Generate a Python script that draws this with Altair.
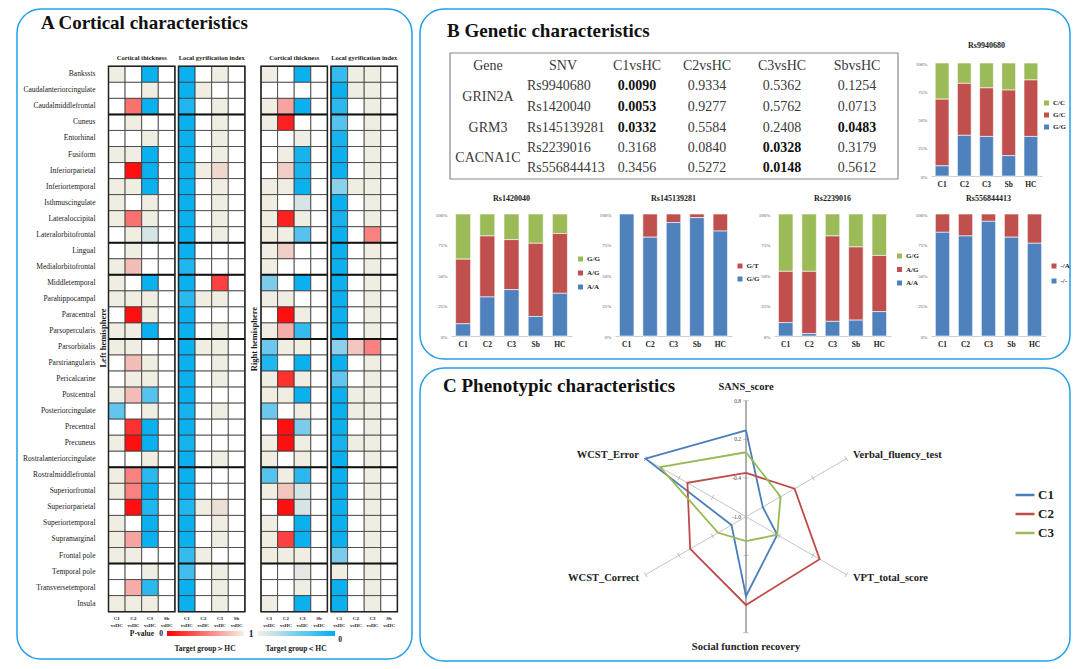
import math
import altair as alt
import pandas as pd

SERIF = "Liberation Serif"
FRAME = "#22a0e6"

# ------------------------------------------------------------------ data
regions = ["Bankssts", "Caudalanteriorcingulate", "Caudalmiddlefrontal", "Cuneus", "Entorhinal",
           "Fusiform", "Inferiorparietal", "Inferiortemporal", "Isthmuscingulate", "Lateraloccipital",
           "Lateralorbitofrontal", "Lingual", "Medialorbitofrontal", "Middletemporal", "Parahippocampal",
           "Paracentral", "Parsopercularis", "Parsorbitalis", "Parstriangularis", "Pericalcarine",
           "Postcentral", "Posteriorcingulate", "Precentral", "Precuneus", "Rostralanteriorcingulate",
           "Rostralmiddlefrontal", "Superiorfrontal", "Superiorparietal", "Superiortemporal",
           "Supramarginal", "Frontal pole", "Temporal pole", "Transversetemporal", "Insula"]
group_breaks = [3, 11, 13, 17, 25, 31]
col_labels = ["C1\nvsHC", "C2\nvsHC", "C3\nvsHC", "Sb\nvsHC"]
block_titles = ["Cortical thickness", "Local gyrification index", "Cortical thickness", "Local gyrification index"]

# signed strength: + red (target > HC), - blue (target < HC); 0 white (p=1), 0.08 beige
lt_c1 = [0.08, 0, 0, 0, 0, 0.08, 0, 0.08, 0.08, 0.08, 0, 0, 0.08, 0.08, 0.08, 0, 0.08, 0.08, 0, 0,
         0.08, -0.55, 0, 0.08, 0, 0.08, 0.08, 0, 0.08, 0.08, 0.08, 0, 0, 0.08]
lt_c2 = [0, 0, 0.65, 0.08, 0, 0.08, 0.95, 0.08, 0, 0.65, 0.08, 0.08, 0.35, 0, 0.08, 0.95, 0.08, 0.08,
         0.35, 0.08, 0.35, 0, 0.85, 0.95, 0, 0.6, 0.6, 0.95, 0, 0.5, 0.08, 0, 0.45, 0.08]
lt_c3 = [-0.95, 0.08, -0.95, 0, 0.08, -0.95, -0.95, -0.95, 0.08, 0.08, -0.15, 0, 0, -0.95, 0.08, 0.08,
         -0.95, 0, 0.08, 0.08, -0.6, 0.08, -0.95, -0.95, 0.08, -0.8, -0.95, -0.85, -0.95, -0.95, 0,
         0.08, -0.8, 0.08]
lt_sb = [0, 0, 0, 0, 0, 0, 0, 0, 0, 0, 0, 0, 0, 0, 0, 0, 0, 0, 0, 0, 0, 0, 0, 0, 0, 0, 0, 0, 0, 0,
         0, 0, 0, 0]
ll_c1 = [-0.95, -0.95, -0.85, -0.95, -0.95, -0.95, -0.95, -0.95, -0.95, -0.95, -0.95, -0.95, -0.85,
         -0.95, -0.8, -0.95, -0.95, -0.95, -0.95, -0.95, -0.95, -0.9, -0.95, -0.9, -0.95, -0.95,
         -0.95, -0.85, -0.95, -0.95, -0.75, -0.7, -0.95, -0.95]
ll_c2 = [0, 0.08, 0, 0, 0, 0, 0.08, 0, 0, 0, 0, 0, 0, 0, 0.08, 0, 0, 0.08, 0, 0, 0, 0, 0, 0, 0, 0,
         0, 0.08, 0, 0, 0.08, 0, 0, 0]
ll_c3 = [0.08, 0, 0.08, 0.08, 0.08, 0.08, 0.2, 0.08, 0.08, 0.08, 0.08, 0, 0, 0.8, 0.08, 0, 0.08,
         0.08, 0.08, 0.08, 0, 0.08, 0, 0, 0.08, 0, 0, 0.15, 0.08, 0.08, 0, 0.08, 0.08, 0.08]
ll_sb = [0, 0, 0, 0, 0, 0, 0, 0, 0, 0, 0, 0, 0, 0, 0, 0, 0, 0, 0, 0, 0, 0, 0, 0, 0, 0, 0, 0, 0, 0,
         0, 0, 0, 0]
rt_c1 = [0.08, 0, 0.08, 0.08, 0, 0, 0, 0.08, 0.08, 0.08, 0.08, 0.08, 0.08, -0.45, 0.08, 0, 0.08,
         -0.5, -0.85, 0.08, 0.08, -0.5, 0, 0.08, 0.08, -0.6, 0.08, 0, 0.08, 0.08, 0.08, 0, 0, 0.08]
rt_c2 = [0, 0, 0.5, 0.9, 0, 0.08, 0.25, 0.08, 0, 0.9, 0.08, 0.25, 0, 0, 0.08, 0.95, 0.45, 0.08, 0,
         0.85, 0.08, 0, 0.95, 0.95, 0, 0.08, 0.3, 0.95, 0, 0.8, 0.08, 0, 0, 0]
rt_c3 = [-0.95, 0, -0.95, 0, 0.08, -0.9, -0.9, -0.95, -0.15, 0.08, -0.6, 0, 0, -0.95, 0, 0.08, -0.75,
         0.08, -0.95, 0.08, -0.95, 0.08, -0.45, 0.08, 0.08, -0.8, -0.15, -0.15, -0.95, -0.95, 0.08,
         -0.1, 0.08, -0.95]
rt_sb = [0, 0, 0, 0, 0, 0, 0, 0, 0, 0, 0, 0, 0, 0, 0, 0, 0, 0, 0, 0, 0, 0, 0, 0, 0, 0, 0, 0, 0, 0,
         0, 0, 0, 0]
rl_c1 = [-0.75, -0.95, -0.8, -0.6, -0.9, -0.95, -0.95, -0.4, -0.95, -0.9, -0.95, -0.95, -0.95, -0.95,
         -0.95, -0.95, -0.95, -0.4, -0.95, -0.55, -0.95, -0.95, -0.95, -0.9, -0.95, -0.95, -0.95,
         -0.95, -0.95, -0.95, -0.45, 0.08, -0.95, -0.95]
rl_c2 = [0.08, 0.08, 0, 0, 0, 0, 0, 0.08, 0, 0, 0, 0, 0, 0, 0, 0, 0, 0.3, 0, 0, 0.08, 0.08, 0, 0.08,
         0, 0, 0, 0, 0, 0, 0, 0, 0, 0]
rl_c3 = [0.08, 0.08, 0.08, 0.08, 0.08, 0.08, 0.08, 0.08, 0.08, 0.08, 0.6, 0.08, 0.08, 0.08, 0.08,
         0.08, 0.08, 0.6, 0.08, 0.08, 0.08, 0.08, 0.08, 0.08, 0.08, 0.08, 0.08, 0.08, 0.08, 0.08,
         0.08, 0.08, 0.08, 0.08]
rl_sb = [0, 0, 0, 0, 0, 0, 0, 0, 0, 0, 0, 0, 0, 0, 0, 0, 0, 0, 0, 0, 0, 0, 0, 0, 0, 0, 0, 0, 0, 0,
         0, 0, 0, 0]
blocks = [[lt_c1, lt_c2, lt_c3, lt_sb], [ll_c1, ll_c2, ll_c3, ll_sb],
          [rt_c1, rt_c2, rt_c3, rt_sb], [rl_c1, rl_c2, rl_c3, rl_sb]]
for blk in blocks:
    for col in blk:
        assert len(col) == len(regions)

# panel B table
snvs = ["Rs9940680", "Rs1420040", "Rs145139281", "Rs2239016", "Rs556844413"]
genes = ["GRIN2A", "GRM3", "CACNA1C"]
gene_span = [(0, 1), (2, 2), (3, 4)]
comparisons = ["C1vsHC", "C2vsHC", "C3vsHC", "SbvsHC"]
p_c1 = ["0.0090", "0.0053", "0.0332", "0.3168", "0.3456"]
p_c2 = ["0.9334", "0.9277", "0.5584", "0.0840", "0.5272"]
p_c3 = ["0.5362", "0.5762", "0.2408", "0.0328", "0.0148"]
p_sb = ["0.1254", "0.0713", "0.0483", "0.3179", "0.5612"]

# panel B stacked bars (percent; first key = top of stack / top of legend)
groups = ["C1", "C2", "C3", "Sb", "HC"]
rs9940680 = {"C/C": [32, 18, 22, 24, 15], "G/C": [59, 46, 43, 58, 50], "G/G": [9, 36, 35, 18, 35]}
rs1420040 = {"G/G": [37, 18, 21, 24, 16], "A/G": [53, 50, 41, 60, 49], "A/A": [10, 32, 38, 16, 35]}
rs145139281 = {"G/T": [0, 19, 7, 3, 14], "G/G": [100, 81, 93, 97, 86]}
rs2239016 = {"G/G": [47, 47, 18, 27, 34], "A/G": [42, 51, 70, 60, 46], "A/A": [11, 2, 12, 13, 20]}
rs556844413 = {"-/A": [15, 18, 6, 19, 24], "-/-": [85, 82, 94, 81, 76]}

# panel C radar
radar_axes = ["SANS_score", "Verbal_fluency_test", "VPT_total_score", "Social function recovery",
              "WCST_Correct", "WCST_Error"]
series_names = ["C1", "C2", "C3"]
c1_vals = [0.34, -0.70, -0.44, 0.23, -0.74, 0.80]
c2_vals = [-0.32, -0.13, 0.32, 0.37, 0.00, 0.05]
c3_vals = [0.00, -0.38, -0.44, -0.62, -0.50, 0.54]
radar_ticks = ["-1.0", "-0.4", "0.2", "0.8"]
RMIN, RMAX = -1.0, 0.8


# ------------------------------------------------------------------ helpers
def enc_xy(W, H, x="x", y="y"):
    return {
        "x": alt.X(f"{x}:Q", scale=alt.Scale(domain=[0, W], nice=False, zero=False), axis=None),
        "y": alt.Y(f"{y}:Q", scale=alt.Scale(domain=[0, H], nice=False, zero=False, reverse=True), axis=None),
    }


def text_layer(df, W, H, **mark):
    props = dict(font=SERIF, color="#1a1a1a")
    props.update(mark)
    return alt.Chart(pd.DataFrame(df)).mark_text(**props).encode(text="t:N", **enc_xy(W, H))


def frame(stroke_w=1.5, radius=24):
    return alt.ViewBackground(stroke=FRAME, strokeWidth=stroke_w, cornerRadius=radius)


# ------------------------------------------------------------------ panel A
A_W, A_H = 395, 650
BX = [91.5, 161.5, 244.0, 314.0]
CW, RH, ROW0 = 16.6, 16.04, 57.3
nR = len(regions)

cells = []
for b, blk in enumerate(blocks):
    for c, col in enumerate(blk):
        for r, s in enumerate(col):
            cells.append(dict(x=BX[b] + c * CW, x2=BX[b] + (c + 1) * CW,
                              y=ROW0 + r * RH, y2=ROW0 + (r + 1) * RH, s=s))
cell_layer = alt.Chart(pd.DataFrame(cells)).mark_rect(stroke="#3a3a3a", strokeWidth=0.8).encode(
    **enc_xy(A_W, A_H), x2="x2:Q", y2="y2:Q",
    color=alt.Color("s:Q", legend=None, scale=alt.Scale(
        domain=[-1, -0.5, -0.1, 0, 0.1, 0.5, 1],
        range=["#00aeef", "#6cc7ee", "#e4e8e4", "#ffffff", "#ece8dc", "#f7a3a0", "#ff0000"],
        interpolate="rgb")))

seps = [dict(x=BX[b], x2=BX[b] + 4 * CW, y=ROW0 + k * RH) for b in range(4) for k in group_breaks]
sep_layer = alt.Chart(pd.DataFrame(seps)).mark_rule(color="#111111", strokeWidth=2).encode(
    **enc_xy(A_W, A_H), x2="x2:Q")

outl = [dict(x=BX[b], x2=BX[b] + 4 * CW, y=ROW0, y2=ROW0 + nR * RH) for b in range(4)]
outl_layer = alt.Chart(pd.DataFrame(outl)).mark_rect(fillOpacity=0, stroke="#222222", strokeWidth=1.5).encode(
    **enc_xy(A_W, A_H), x2="x2:Q", y2="y2:Q")

row_lbl = text_layer([dict(t=n, x=78.5, y=ROW0 + (i + 0.5) * RH) for i, n in enumerate(regions)],
                     A_W, A_H, align="right", baseline="middle", fontSize=7.5)
head_lbl = text_layer([dict(t=block_titles[b], x=BX[b] + 2 * CW, y=49) for b in range(4)],
                      A_W, A_H, align="center", baseline="middle", fontSize=6.5, fontWeight="bold")
col_lbl = text_layer([dict(t=col_labels[c], x=BX[b] + (c + 0.5) * CW, y=607) for b in range(4) for c in range(4)],
                     A_W, A_H, align="center", baseline="top", fontSize=5, fontWeight="bold",
                     lineBreak="\n", lineHeight=6.5)
hemi_lbl = text_layer([dict(t="Left hemisphere", x=86, y=329), dict(t="Right hemisphere", x=237, y=330)],
                      A_W, A_H, align="center", baseline="middle", fontSize=8.5, fontWeight="bold", angle=270)
a_title = text_layer([dict(t="A Cortical characteristics", x=24, y=20)], A_W, A_H,
                     align="left", baseline="alphabetic", fontSize=19, fontWeight="bold", color="#111")

grad_red = alt.Gradient(gradient="linear", x1=0, x2=1, y1=0, y2=0,
                        stops=[alt.GradientStop(color="#ff0000", offset=0),
                               alt.GradientStop(color="#f3f0e8", offset=1)])
grad_blue = alt.Gradient(gradient="linear", x1=0, x2=1, y1=0, y2=0,
                         stops=[alt.GradientStop(color="#f3f0e8", offset=0),
                                alt.GradientStop(color="#00aeef", offset=1)])
bar_red = alt.Chart(pd.DataFrame([dict(x=150, x2=227, y=622, y2=627)])).mark_rect(fill=grad_red).encode(
    **enc_xy(A_W, A_H), x2="x2:Q", y2="y2:Q")
bar_blue = alt.Chart(pd.DataFrame([dict(x=241, x2=318, y=622, y2=627)])).mark_rect(fill=grad_blue).encode(
    **enc_xy(A_W, A_H), x2="x2:Q", y2="y2:Q")
leg_r = text_layer([dict(t="P-value", x=137, y=624.5)], A_W, A_H, align="right", baseline="middle",
                   fontSize=7.5, fontWeight="bold")
leg_c = text_layer([dict(t="0", x=144, y=624.5), dict(t="0", x=323, y=631),
                    dict(t="Target group＞HC", x=188, y=640), dict(t="Target group＜HC", x=279, y=640)],
                   A_W, A_H, align="center", baseline="middle", fontSize=7.5, fontWeight="bold")
leg_one = text_layer([dict(t="1", x=234, y=624.5)], A_W, A_H, align="center", baseline="middle",
                     fontSize=9.5, fontWeight="bold")

panelA = alt.layer(cell_layer, sep_layer, outl_layer, row_lbl, head_lbl, col_lbl, hemi_lbl, a_title,
                   bar_red, bar_blue, leg_r, leg_c, leg_one).properties(
    width=A_W, height=A_H, view=frame())

# ------------------------------------------------------------------ panel B frame + table
B_W, B_H = 650, 350
row_y = [77, 98, 118.7, 139, 159]
pcol_x = [217, 287, 362, 437]
pvals = [p_c1, p_c2, p_c3, p_sb]

b_title = text_layer([dict(t="B Genetic characteristics", x=27, y=28)], B_W, B_H, align="left",
                     baseline="alphabetic", fontSize=19, fontWeight="bold", color="#111")
box = alt.Chart(pd.DataFrame([dict(x=30, x2=478, y=44, y2=170)])).mark_rect(
    fillOpacity=0, stroke="#8a8a8a", strokeWidth=1.2).encode(**enc_xy(B_W, B_H), x2="x2:Q", y2="y2:Q")
hdr = [dict(t="Gene", x=68, y=56.7), dict(t="SNV", x=143, y=56.7)] + \
      [dict(t=comparisons[i], x=pcol_x[i], y=56.7) for i in range(4)]
gene_txt = [dict(t=g, x=68, y=(row_y[a] + row_y[b]) / 2) for g, (a, b) in zip(genes, gene_span)]
norm_p, bold_p = [], []
for i in range(4):
    for j in range(5):
        d = dict(t=pvals[i][j], x=pcol_x[i], y=row_y[j])
        (bold_p if float(pvals[i][j]) < 0.05 else norm_p).append(d)
t_hdr = text_layer(hdr + gene_txt + norm_p, B_W, B_H, align="center", baseline="middle",
                   fontSize=14, color="#3a3a3a")
t_bold = text_layer(bold_p, B_W, B_H, align="center", baseline="middle", fontSize=14,
                    fontWeight="bold", color="#111")
t_snv = text_layer([dict(t=s, x=107, y=row_y[j]) for j, s in enumerate(snvs)], B_W, B_H,
                   align="left", baseline="middle", fontSize=14, color="#3a3a3a")
Bframe = alt.layer(box, b_title, t_hdr, t_bold, t_snv).properties(width=B_W, height=B_H, view=frame())

# ------------------------------------------------------------------ panel B bar charts
PAL3 = ["#9bbb59", "#c0504d", "#4f81bd"]


def bar_chart(name, comp, w, h, lx, ly, toff, rowpad):
    keys = list(comp.keys())
    recs = []
    for ki, k in enumerate(keys):
        for gi, g in enumerate(groups):
            recs.append(dict(group=g, geno=k, pct=comp[k][gi] / 100.0, stk=len(keys) - 1 - ki))
    return alt.Chart(pd.DataFrame(recs)).mark_bar(stroke="white", strokeWidth=0.6).encode(
        x=alt.X("group:N", sort=groups, scale=alt.Scale(paddingInner=0.38, paddingOuter=0.19),
                axis=alt.Axis(title=None, labelAngle=0, labelFont=SERIF, labelFontWeight="bold",
                              labelFontSize=7.5, labelColor="#222", ticks=False, domainColor="#cfcfcf",
                              labelPadding=4)),
        y=alt.Y("pct:Q", stack="zero", scale=alt.Scale(domain=[0, 1], nice=False),
                axis=alt.Axis(title=None, values=[0, 0.25, 0.5, 0.75, 1], format=".0%", labelFont=SERIF,
                              labelFontSize=5, labelColor="#555", ticks=False, domain=False, grid=False,
                              labelPadding=4)),
        color=alt.Color("geno:N", scale=alt.Scale(domain=keys, range=PAL3[-len(keys):]),
                        legend=alt.Legend(title=None, orient="none", legendX=lx, legendY=ly,
                                          symbolType="square", symbolSize=25, symbolStrokeWidth=0,
                                          labelFont=SERIF, labelFontWeight="bold", labelFontSize=7,
                                          labelColor="#222", rowPadding=rowpad, padding=0, labelOffset=3)),
        order=alt.Order("stk:Q", sort="ascending"),
    ).properties(width=w, height=h, title=alt.TitleParams(name, font=SERIF, fontSize=8, fontWeight="bold",
                                                          color="#222", offset=toff))


def spacer(w, h=1):
    return alt.Chart(pd.DataFrame({"v": [0]})).mark_point(size=0, opacity=0).encode(
        x=alt.value(0), y=alt.value(0)).properties(width=w, height=h)


bar1 = bar_chart("Rs9940680", rs9940680, 111, 113, 112, 36.5, 11, 4)
bar2 = bar_chart("Rs1420040", rs1420040, 121, 122, 126, 41.5, 9, 6)
bar3 = bar_chart("Rs145139281", rs145139281, 117, 122, 121.5, 48.5, 9, 5)
bar4 = bar_chart("Rs2239016", rs2239016, 117, 122, 122, 38.5, 9, 5.5)
bar5 = bar_chart("Rs556844413", rs556844413, 115, 122, 119.5, 48.5, 9, 7)

grid = alt.concat(
    spacer(1), spacer(1), spacer(1), spacer(1), spacer(1), spacer(1), spacer(1), bar1,
    spacer(31), bar2, spacer(43), bar3, spacer(42), bar4, spacer(40), bar5,
    columns=8, spacing=alt.RowColnumber(row=38, column=0), bounds="flush", align="each",
).resolve_scale(color="independent").resolve_legend(color="independent")

# frame first, bar grid pulled up over it (align "none" lets the negative spacing act)
Bblock = alt.concat(Bframe, grid, columns=1, spacing=-318, align="none").resolve_scale(
    color="independent").resolve_legend(color="independent")

# ------------------------------------------------------------------ panel C radar
C_W, C_H = 650, 293
CX, CY, R = 326.0, 148.7, 116.0
SERIES_COL = ["#4a7ebb", "#be4b48", "#98b954"]

rad = []
for name, vals in zip(series_names, [c1_vals, c2_vals, c3_vals]):
    for k in range(7):
        rad.append(dict(series=name, k=k, v=vals[k % 6]))

pos_expr = dict(px=f"{CX} + {R} * datum.rr * sin(datum.k * PI / 3)",
                py=f"{CY} - {R} * datum.rr * cos(datum.k * PI / 3)")

lines = alt.Chart(pd.DataFrame(rad)).transform_calculate(
    rr=f"(datum.v - ({RMIN})) / {RMAX - RMIN}").transform_calculate(**pos_expr).mark_line(
    strokeWidth=1.8).encode(
    **enc_xy(C_W, C_H, "px", "py"),
    order=alt.Order("k:Q"),
    color=alt.Color("series:N", scale=alt.Scale(domain=series_names, range=SERIES_COL),
                    legend=alt.Legend(title=None, orient="none", legendX=594, legendY=116,
                                      symbolType="stroke", symbolSize=360, symbolStrokeWidth=2.5,
                                      labelFont=SERIF, labelFontSize=13, labelFontWeight="bold",
                                      labelColor="#222", rowPadding=1, labelOffset=2, padding=0)))


def spokes(ks, width, color):
    return alt.Chart(pd.DataFrame({"k": ks})).transform_calculate(
        x0=f"{CX}", y0=f"{CY}",
        x1=f"{CX} + {R} * sin(datum.k * PI / 3)", y1=f"{CY} - {R} * cos(datum.k * PI / 3)").mark_rule(
        color=color, strokeWidth=width).encode(**enc_xy(C_W, C_H, "x0", "y0"), x2="x1:Q", y2="y1:Q")


tick_df = pd.DataFrame([dict(k=k, rr=f) for k in range(6) for f in (1 / 3, 2 / 3, 1.0)])
ticks = alt.Chart(tick_df).transform_calculate(**pos_expr).transform_calculate(
    ang="datum.k * 60").mark_point(shape="M-1,0L1,0", size=30, filled=False, color="#9a9a9a",
                                   strokeWidth=0.8).encode(
    **enc_xy(C_W, C_H, "px", "py"), angle=alt.Angle("ang:Q", scale=None))

tick_lbl = text_layer([dict(t=t, x=CX - 5, y=CY - R * i / 3) for i, t in enumerate(radar_ticks)],
                      C_W, C_H, align="right", baseline="middle", fontSize=5.5, color="#444")

ax_fac = [1.12, 1.065, 1.065, 1.12, 1.065, 1.065]
ax_align = ["center", "left", "left", "center", "right", "right"]
ax_layers = []
for al in ("center", "left", "right"):
    recs = [dict(t=radar_axes[k],
                 x=CX + R * ax_fac[k] * math.sin(k * math.pi / 3),
                 y=CY - R * ax_fac[k] * math.cos(k * math.pi / 3))
            for k in range(6) if ax_align[k] == al]
    ax_layers.append(text_layer(recs, C_W, C_H, align=al, baseline="middle", fontSize=10.5,
                                fontWeight="bold", color="#222"))
c_title = text_layer([dict(t="C Phenotypic characteristics", x=23, y=24)], C_W, C_H, align="left",
                     baseline="alphabetic", fontSize=19, fontWeight="bold", color="#111")

panelC = alt.layer(spokes([1, 2, 4, 5], 0.8, "#b5b5b5"), spokes([0, 3], 1.8, "#a8a8a8"), ticks,
                   tick_lbl, lines, *ax_layers, c_title).properties(width=C_W, height=C_H, view=frame())

# ------------------------------------------------------------------ assemble
right = alt.vconcat(Bblock, panelC, spacing=7).resolve_scale(color="independent").resolve_legend(
    color="independent")
chart = alt.hconcat(panelA, right, spacing=6).resolve_scale(color="independent").resolve_legend(
    color="independent").properties(padding={"left": 8, "top": 0, "right": 0, "bottom": 0}).configure_view(
    strokeWidth=0)

chart.save("out.html", embed_options={"renderer": "svg", "actions": False})
